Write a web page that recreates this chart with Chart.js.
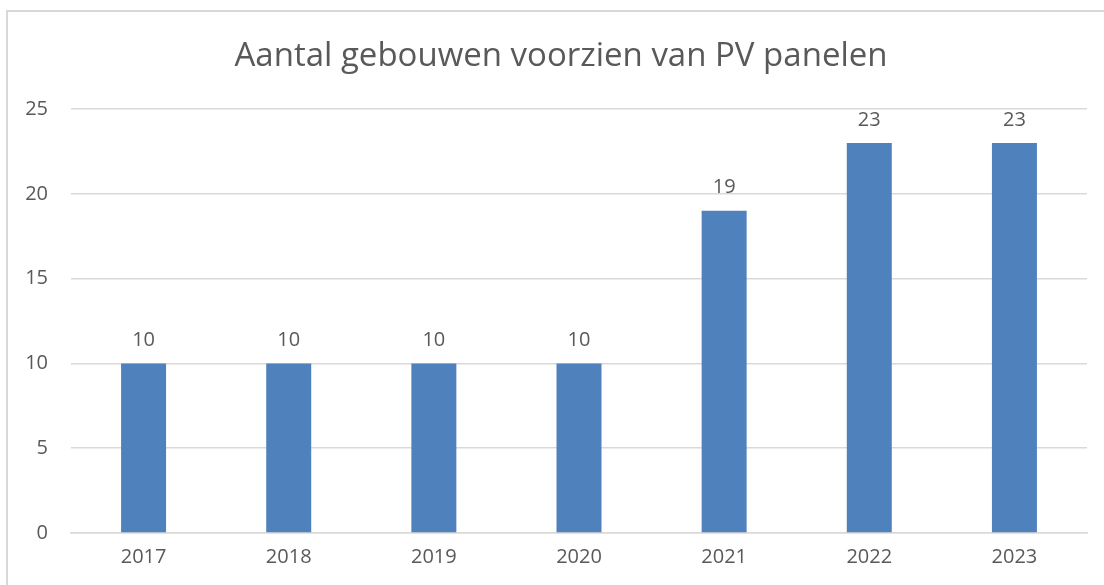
<!DOCTYPE html>
<html>
<head>
<meta charset="utf-8">
<script src="https://cdn.jsdelivr.net/npm/chart.js@4.4.0/dist/chart.umd.min.js"></script>
<style>
  html, body { margin: 0; padding: 0; background: #fff; }
  #wrap { position: relative; width: 1104px; height: 585px; overflow: hidden; }
  #frame { position: absolute; left: 6px; top: 10px; width: 1200px; height: 700px;
           border-left: 2px solid #d9d9d9; border-top: 2px solid #d9d9d9; box-sizing: border-box; }
  canvas { position: absolute; left: 0; top: 0; }
</style>
</head>
<body>
<div id="wrap">
  <div id="frame"></div>
  <canvas id="grafiek" width="1104" height="585"></canvas>
</div>
<script>
// jaren en aantallen gebouwen met PV panelen
const jaren = ["2017", "2018", "2019", "2020", "2021", "2022", "2023"];
const aantallen = [10, 10, 10, 10, 19, 23, 23];
const titel = "Aantal gebouwen voorzien van PV panelen";

const tekstKleur = "#595959";
const lettertype = "'Open Sans', sans-serif";

// eigen plugin: titel (gecentreerd over de hele kaart) en waarden boven de staven
const waardeLabels = {
    id: "waardeLabels",
    afterDraw(chart) {
        const ctx = chart.ctx;
        ctx.save();
        ctx.fillStyle = tekstKleur;
        ctx.textAlign = "center";
        ctx.textBaseline = "middle";
        ctx.font = "33px " + lettertype;
        ctx.fillText(titel, 561, 57);
        ctx.restore();
    },
    afterDatasetsDraw(chart) {
        const ctx = chart.ctx;
        const meta = chart.getDatasetMeta(0);
        ctx.save();
        ctx.fillStyle = tekstKleur;
        ctx.font = "20px " + lettertype;
        ctx.textAlign = "center";
        ctx.textBaseline = "middle";
        meta.data.forEach((bar, i) => {
            ctx.fillText(String(aantallen[i]), bar.x, bar.y - 23);
        });
        ctx.restore();
    }
};

new Chart(document.getElementById("grafiek").getContext("2d"), {
    type: "bar",
    data: {
        labels: jaren,
        datasets: [{
            data: aantallen,
            backgroundColor: "#4f81bd",
            categoryPercentage: 1,
            barPercentage: 0.31
        }]
    },
    options: {
        responsive: false,
        animation: false,
        layout: { padding: { top: 109, right: 17, left: 0, bottom: 0 } },
        plugins: {
            legend: { display: false },
            tooltip: { enabled: false },
            title: { display: false }
        },
        scales: {
            x: {
                grid: { display: false, drawTicks: false },
                border: { color: "#d9d9d9", width: 1.5 },
                ticks: { color: tekstKleur, font: { family: lettertype, size: 20 }, padding: 12 },
                afterFit(s) { s.height = 52; }
            },
            y: {
                min: 0,
                max: 25,
                grid: { color: "#d9d9d9", lineWidth: 1.5, drawTicks: false },
                border: { display: false },
                ticks: { stepSize: 5, color: tekstKleur, font: { family: lettertype, size: 20 }, padding: 23 },
                afterFit(s) { s.width = 71; }
            }
        }
    },
    plugins: [waardeLabels]
});
</script>
</body>
</html>
